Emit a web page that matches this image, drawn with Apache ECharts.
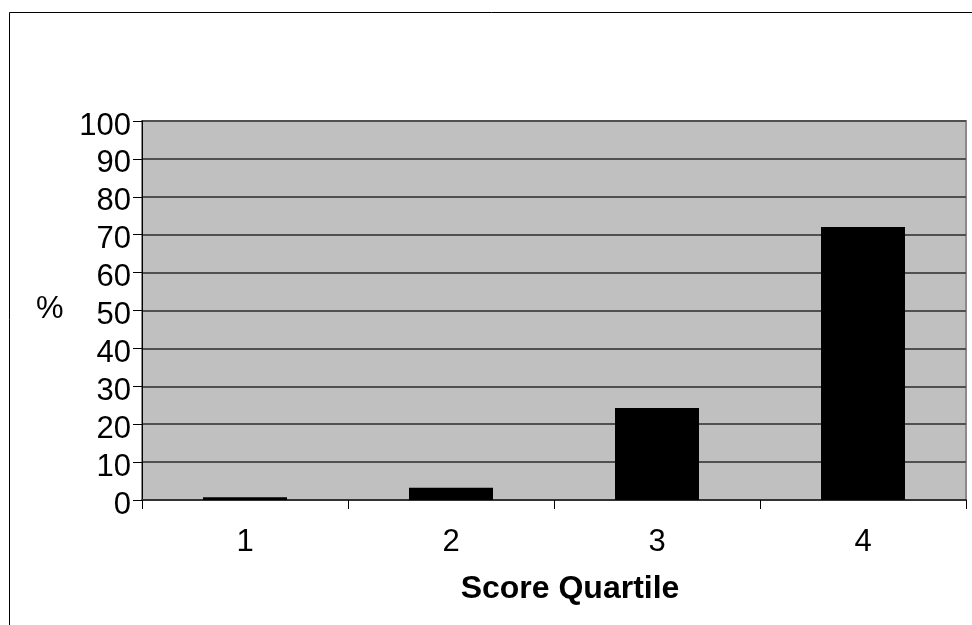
<!DOCTYPE html>
<html>
<head>
<meta charset="utf-8">
<script src="https://cdn.jsdelivr.net/npm/echarts@6/dist/echarts.min.js"></script>
<style>
html,body{margin:0;padding:0;background:#fff;}
#c{width:972px;height:625px;}
</style>
</head>
<body>
<div id="c"></div>
<script>
var categories = ['1', '2', '3', '4'];
var values = [0.7, 3.2, 24.3, 72];
var yTicks = [0, 10, 20, 30, 40, 50, 60, 70, 80, 90, 100];

var chart = echarts.init(document.getElementById('c'), null, {renderer: 'canvas'});
var font = '"Liberation Sans", Arial, sans-serif';
chart.setOption({
  animation: false,
  backgroundColor: '#ffffff',
  graphic: [{
    type: 'rect',
    left: 7, top: 10,
    shape: {width: 1000, height: 700},
    style: {fill: 'none', stroke: '#000', lineWidth: 1},
    z: -10
  }, {
    type: 'text',
    left: 36, top: 294,
    style: {text: '%', font: '31px ' + font, fill: '#000'}
  }],
  grid: {
    left: 142, right: 6, top: 121, bottom: 125,
    show: true,
    backgroundColor: '#c0c0c0',
    borderColor: '#8a8a8a',
    borderWidth: 2
  },
  xAxis: {
    type: 'category',
    data: categories,
    boundaryGap: true,
    name: 'Score Quartile',
    nameLocation: 'middle',
    nameGap: 73,
    nameTextStyle: {fontFamily: font, fontSize: 32, fontWeight: 'bold', color: '#000', padding: [0, 0, 0, 32]},
    axisLine: {show: true, lineStyle: {color: '#333', width: 2}},
    axisTick: {show: true, alignWithLabel: false, length: 9, lineStyle: {color: '#000', width: 1}},
    axisLabel: {fontFamily: font, fontSize: 31, color: '#000', margin: 27},
    splitLine: {show: false}
  },
  yAxis: {
    type: 'value',
    min: 0, max: 100, interval: 10,
    axisLine: {show: true, lineStyle: {color: '#000', width: 1}},
    axisTick: {show: true, length: 9, lineStyle: {color: '#000', width: 1}},
    axisLabel: {
      fontFamily: font, fontSize: 31, color: '#000', margin: 11,
      formatter: function (v) { return yTicks.indexOf(v) >= 0 ? '{a|' + v + '}' : ''; },
      rich: {a: {fontFamily: font, fontSize: 31, color: '#000', padding: [10, 0, 0, 0]}}
    },
    splitLine: {show: true, lineStyle: {color: '#505050', width: 2}}
  },
  series: [{
    type: 'bar',
    data: values,
    barWidth: 84,
    itemStyle: {color: '#000'},
    z: 3
  }]
});
</script>
</body>
</html>
